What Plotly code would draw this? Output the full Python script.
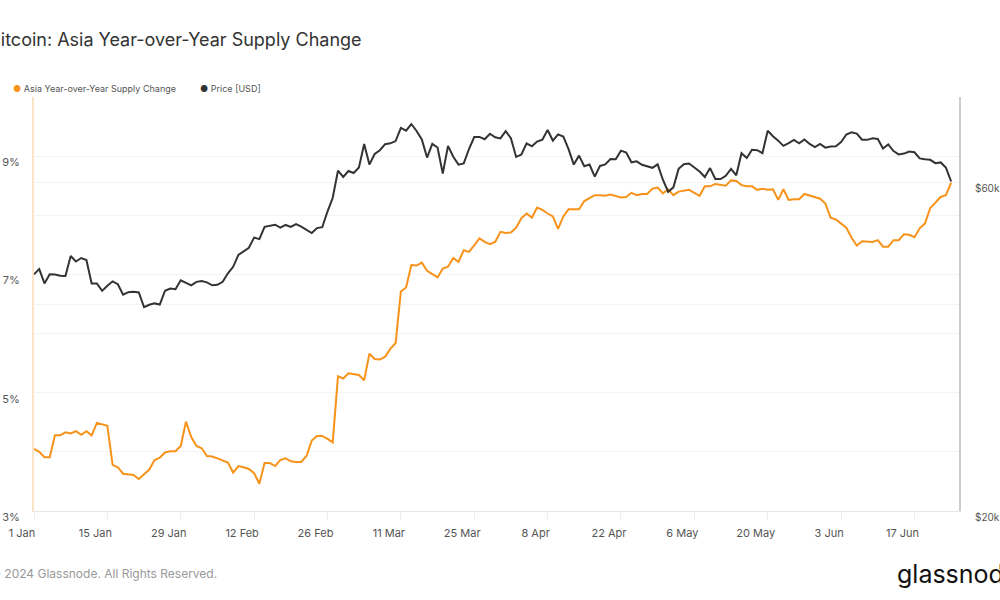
import pandas as pd
import plotly.graph_objects as go
from plotly.subplots import make_subplots

# daily values, 1 Jan 2024 - 24 Jun 2024
start_date = "2024-01-01"
n_days = 176

supply_change = [
    4.05, 4.00, 3.91, 3.91, 4.28, 4.28, 4.33, 4.31, 4.35, 4.29, 4.35, 4.28, 4.49, 4.47, 4.44, 3.78,
    3.74, 3.63, 3.62, 3.61, 3.54, 3.62, 3.70, 3.86, 3.90, 3.99, 4.01, 4.01, 4.10, 4.51, 4.25,
    4.10, 4.06, 3.93, 3.92, 3.89, 3.86, 3.82, 3.65, 3.76, 3.74, 3.71, 3.64, 3.46, 3.81, 3.81,
    3.76, 3.86, 3.89, 3.84, 3.83, 3.83, 3.93, 4.19, 4.27, 4.27, 4.22, 4.16, 5.28, 5.24,
    5.33, 5.31, 5.30, 5.21, 5.66, 5.57, 5.56, 5.61, 5.74, 5.84, 6.71, 6.78, 7.16, 7.15, 7.20,
    7.06, 7.01, 6.95, 7.10, 7.13, 7.28, 7.21, 7.41, 7.38, 7.49, 7.61, 7.55, 7.51, 7.55, 7.72, 7.70,
    7.71, 7.79, 7.95, 8.03, 7.96, 8.13, 8.09, 8.03, 7.98, 7.77, 7.98, 8.10, 8.10, 8.10, 8.24,
    8.29, 8.34, 8.34, 8.33, 8.35, 8.33, 8.30, 8.31, 8.38, 8.34, 8.36, 8.36, 8.45, 8.47, 8.37,
    8.44, 8.34, 8.40, 8.41, 8.43, 8.38, 8.33, 8.49, 8.49, 8.53, 8.52, 8.50, 8.59, 8.58, 8.51,
    8.49, 8.49, 8.43, 8.45, 8.43, 8.44, 8.26, 8.44, 8.26, 8.27, 8.27, 8.36, 8.33, 8.31, 8.28,
    8.20, 7.96, 7.93, 7.86, 7.79, 7.62, 7.49, 7.56, 7.55, 7.55, 7.58, 7.47, 7.47, 7.58, 7.58,
    7.68, 7.67, 7.63, 7.78, 7.86, 8.12, 8.22, 8.31, 8.34, 8.55,
]

price_usd = [
    # Jan
    44180, 44950, 42850, 44180, 44160, 43970, 43930, 46970, 46120, 46660,
    46350, 42850, 42840, 41800, 42510, 43150, 42740, 41260, 41620, 41660,
    41580, 39570, 39900, 40080, 39930, 41820, 42120, 42030, 43300, 42950, 42580,
    # Feb
    43080, 43190, 43000, 42580, 42660, 43090, 44330, 45300, 47150, 47770,
    48290, 49960, 49700, 51800, 51940, 52160, 51660, 52120, 51780, 52280,
    51840, 51300, 50730, 51570, 51730, 54520, 57090, 62500, 61200,
    # Mar
    62440, 62030, 63170, 68330, 63800, 66110, 66930, 68300, 68500, 69020,
    72120, 71480, 73080, 71400, 69400, 65320, 68390, 67550, 61910, 67910,
    65490, 63780, 64050, 67210, 69960, 69990, 69450, 70740, 69890, 69640, 71330,
    # Apr
    69700, 65450, 65980, 68500, 67830, 68900, 69360, 71620, 69140, 70590,
    70060, 67200, 63800, 65740, 63430, 63810, 61280, 63510, 63840, 64990,
    64930, 66840, 66410, 64290, 64500, 63760, 63420, 63110, 63840, 60640,
    # May
    58250, 59120, 62890, 63890, 64030, 63160, 62330, 61190, 63050, 60790,
    60790, 61450, 62900, 61550, 66270, 65230, 67050, 66940, 66280, 71450,
    70140, 69120, 67930, 68530, 69290, 68510, 69390, 68370, 67630, 68360, 67530,
    # Jun
    67760, 67820, 68800, 70570, 71080, 70760, 69340, 69310, 69650, 69510,
    67320, 68240, 66760, 66010, 66190, 66640, 66490, 65140, 64960, 64830,
    64100, 64260, 63160, 60280,
]

left_ticks = [3, 5, 7, 9]
left_labels = ["3%", "5%", "7%", "9%"]
right_ticks = [20000, 40000, 60000]
right_labels = ["$20k", "", "$60k"]

dates = pd.date_range(start_date, periods=n_days, freq="D")

ORANGE = "#f7931a"
DARK = "#333333"
FONT = "Inter"

fig = make_subplots(specs=[[{"secondary_y": True}]])

fig.add_trace(
    go.Scatter(x=dates, y=supply_change, mode="lines", name="Asia Year-over-Year Supply Change",
               line=dict(color=ORANGE, width=2)),
    secondary_y=False,
)
fig.add_trace(
    go.Scatter(x=dates, y=price_usd, mode="lines", name="Price [USD]",
               line=dict(color=DARK, width=2)),
    secondary_y=True,
)

fig.update_layout(
    width=1000,
    height=600,
    showlegend=False,
    paper_bgcolor="white",
    plot_bgcolor="white",
    margin=dict(l=34, r=41, t=97, b=89, autoexpand=False),
    font=dict(family=FONT, color="#555"),
)

fig.update_xaxes(
    domain=[0, 1],
    type="date",
    automargin=False,
    range=["2024-01-01", "2024-06-25 12:00"],
    tick0="2024-01-01",
    dtick=14 * 86400000,
    tickformat="%-d %b",
    ticks="outside",
    ticklen=8,
    tickcolor="#eeeeee",
    ticklabelshift=-12,
    ticklabelstandoff=4,
    tickfont=dict(size=11, color="#555"),
    showgrid=False,
    showline=True,
    linecolor="#e6e6e6",
    zeroline=False,
)

fig.update_yaxes(
    automargin=False,
    range=[3, 10],
    tickvals=left_ticks,
    ticktext=left_labels,
    ticklabelshift=6,
    ticklabelstandoff=10,
    tickfont=dict(size=11, color="#555"),
    showgrid=True,
    gridcolor="#f3f3f3",
    minor=dict(dtick=1, tick0=3, showgrid=True, gridcolor="#f3f3f3"),
    showline=True,
    linecolor="rgba(247,147,26,0.25)",
    linewidth=2,
    zeroline=False,
    secondary_y=False,
)

fig.update_yaxes(
    automargin=False,
    type="log",
    range=[4.30103, 4.90309],
    tickvals=right_ticks,
    ticktext=right_labels,
    ticklabelshift=6,
    ticklabelstandoff=12,
    tickfont=dict(size=10, color="#555"),
    showgrid=True,
    gridcolor="#f3f3f3",
    showline=True,
    linecolor="#cccccc",
    linewidth=2,
    zeroline=False,
    secondary_y=True,
)

# title, legend and footer
fig.add_annotation(text="Bitcoin: Asia Year-over-Year Supply Change", xref="paper", yref="paper",
                   x=0, y=1, xanchor="left", yanchor="middle", xshift=-47, yshift=58,
                   showarrow=False, font=dict(size=18, color="#333"))
fig.add_annotation(text=f'<span style="color:{ORANGE}">●</span> Asia Year-over-Year Supply Change',
                   xref="paper", yref="paper", x=0, y=1, xanchor="left", yanchor="middle",
                   xshift=-23, yshift=9, showarrow=False, font=dict(size=9, color="#555"))
fig.add_annotation(text=f'<span style="color:{DARK}">●</span> Price [USD]',
                   xref="paper", yref="paper", x=0, y=1, xanchor="left", yanchor="middle",
                   xshift=164, yshift=9, showarrow=False, font=dict(size=9, color="#555"))
fig.add_annotation(text="© 2024 Glassnode. All Rights Reserved.", xref="paper", yref="paper",
                   x=0, y=0, xanchor="left", yanchor="middle", xshift=-46, yshift=-62,
                   showarrow=False, font=dict(size=12, color="#999"))
fig.add_annotation(text="glassnode", xref="paper", yref="paper",
                   x=0, y=0, xanchor="left", yanchor="middle", xshift=861, yshift=-63,
                   showarrow=False, font=dict(size=25, color="#111"))

# page body has a default 8px margin; drop it so the figure sits at the window's corner
fig.write_html("out.html", config={"displayModeBar": False},
               post_script="document.body.style.margin = '0';")
